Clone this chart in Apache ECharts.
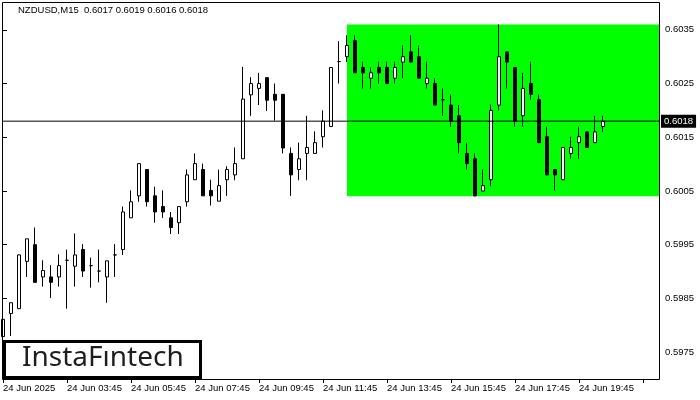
<!DOCTYPE html>
<html><head><meta charset="utf-8">
<script src="https://cdn.jsdelivr.net/npm/echarts@6/dist/echarts.min.js"></script>
<style>html,body{margin:0;padding:0;background:#fff}#c{width:700px;height:400px}</style>
</head><body><div id="c"></div><script>
// OHLC values (NZDUSD M15)
const opens  = [0.59779,0.59822,0.59831,0.59919,0.59950,0.59890,0.59890,0.59890,0.59921,0.59910,
                0.59941,0.59911,0.59901,0.59890,0.59931,0.59941,0.60000,0.60041,0.60090,0.60041,
                0.60021,0.60000,0.59991,0.60030,0.60071,0.60090,0.60051,0.60031,0.60071,0.60080,
                0.60110,0.60229,0.60241,0.60261,0.60230,0.60230,0.60120,0.60090,0.60120,0.60120,
                0.60151,0.60170,0.60291,0.60300,0.60330,0.60280,0.60260,0.60280,0.60280,0.60260,
                0.60290,0.60309,0.60300,0.60250,0.60250,0.60220,0.60210,0.60190,0.60120,0.60110,
                0.60050,0.60071,0.60210,0.60309,0.60280,0.60190,0.60250,0.60220,0.60151,0.60090,
                0.60071,0.60120,0.60140,0.60160,0.60140,0.60170];
const highs  = [0.59831,0.59842,0.59932,0.59961,0.59982,0.59921,0.59912,0.59932,0.59941,0.59971,
                0.59951,0.59926,0.59941,0.59920,0.59951,0.60021,0.60051,0.60101,0.60090,0.60058,
                0.60051,0.60011,0.60021,0.60090,0.60120,0.60101,0.60071,0.60090,0.60096,0.60131,
                0.60281,0.60262,0.60270,0.60261,0.60250,0.60230,0.60131,0.60140,0.60190,0.60161,
                0.60200,0.60280,0.60329,0.60340,0.60340,0.60291,0.60280,0.60291,0.60291,0.60291,
                0.60321,0.60340,0.60321,0.60291,0.60260,0.60241,0.60230,0.60210,0.60140,0.60120,
                0.60090,0.60211,0.60360,0.60309,0.60280,0.60270,0.60291,0.60230,0.60170,0.60090,
                0.60131,0.60151,0.60170,0.60160,0.60190,0.60190];
const lows   = [0.59764,0.59780,0.59830,0.59890,0.59880,0.59872,0.59851,0.59872,0.59831,0.59872,
                0.59890,0.59870,0.59880,0.59842,0.59890,0.59931,0.60000,0.60030,0.60021,0.59991,
                0.60000,0.59970,0.59970,0.60021,0.60071,0.60041,0.60023,0.60031,0.60041,0.60070,
                0.60110,0.60190,0.60210,0.60199,0.60181,0.60120,0.60041,0.60070,0.60070,0.60120,
                0.60131,0.60170,0.60250,0.60290,0.60270,0.60241,0.60241,0.60250,0.60250,0.60250,
                0.60260,0.60290,0.60260,0.60241,0.60210,0.60190,0.60170,0.60120,0.60090,0.60040,
                0.60050,0.60059,0.60200,0.60241,0.60170,0.60170,0.60220,0.60140,0.60080,0.60051,
                0.60071,0.60110,0.60110,0.60131,0.60140,0.60160];
const closes = [0.59811,0.59842,0.59931,0.59961,0.59880,0.59902,0.59880,0.59911,0.59921,0.59931,
                0.59901,0.59911,0.59901,0.59920,0.59931,0.60011,0.60030,0.60101,0.60030,0.60011,
                0.60011,0.59982,0.60021,0.60080,0.60101,0.60041,0.60041,0.60060,0.60090,0.60101,
                0.60221,0.60250,0.60250,0.60219,0.60219,0.60130,0.60080,0.60110,0.60131,0.60140,
                0.60180,0.60280,0.60291,0.60321,0.60270,0.60270,0.60270,0.60270,0.60250,0.60280,
                0.60300,0.60290,0.60260,0.60260,0.60210,0.60220,0.60180,0.60140,0.60101,0.60041,
                0.60060,0.60200,0.60300,0.60290,0.60180,0.60241,0.60230,0.60140,0.60080,0.60080,
                0.60131,0.60131,0.60151,0.60131,0.60160,0.60180];

const tickLabels = ["24 Jun 2025","24 Jun 03:45","24 Jun 05:45","24 Jun 07:45","24 Jun 09:45",
                    "24 Jun 11:45","24 Jun 13:45","24 Jun 15:45","24 Jun 17:45","24 Jun 19:45"];
const barsPerTick = 8;
const slotCount = 83;           // visible bar slots incl. empty right margin
const boxTop = 0.6036, boxBottom = 0.6004, boxStart = 43;
const currentPrice = 0.6018;
const titleText = "NZDUSD,M15  0.6017 0.6019 0.6016 0.6018";
const yMin = 0.597, yMax = 0.604;          // visible price range
const yTickFirst = 0.5975, yStep = 0.001;  // price ticks 0.5975 ... 0.6035

const categories = [];
for (let i = 0; i < slotCount; i++) categories.push(String(i));
const candles = opens.map((o, i) => [o, closes[i], lows[i], highs[i]]);
const priceLine = categories.map(() => currentPrice);

// grid geometry
const G = {left: 3, right: 41, top: 3, bottom: 21};
const plotH = 400 - G.top - G.bottom;
const tickGridBottom = G.bottom + plotH * (yTickFirst - yMin) / (yMax - yMin);

const chart = echarts.init(document.getElementById('c'), null, {renderer: 'canvas'});
const font = 'Liberation Sans, Arial, sans-serif';
chart.setOption({
  animation: false,
  backgroundColor: '#fff',
  grid: [
    {left: G.left, right: G.right, top: G.top, bottom: G.bottom, containLabel: false},
    {left: G.left, right: G.right, top: G.top, bottom: tickGridBottom, containLabel: false}
  ],
  xAxis: [{
    type: 'category', data: categories, boundaryGap: false, gridIndex: 0,
    axisLine: {show: false},
    axisTick: {show: true, length: 4, lineStyle: {color: '#000'}, interval: (i) => i % barsPerTick === 0},
    axisLabel: {show: true, interval: (i) => i % barsPerTick === 0, align: 'left', margin: 4,
      color: '#000', fontFamily: font, fontSize: 9.5,
      formatter: (v, i) => (i % barsPerTick === 0 && tickLabels[i / barsPerTick]) ? tickLabels[i / barsPerTick] : ''},
    splitLine: {show: false}
  }, {
    type: 'value', gridIndex: 1, show: false, min: 0, max: 1
  }],
  yAxis: [{
    type: 'value', gridIndex: 0, position: 'right', min: yMin, max: yMax,
    axisLine: {show: false}, axisTick: {show: false}, axisLabel: {show: false}, splitLine: {show: false}
  }, {
    type: 'value', gridIndex: 1, position: 'right', min: yTickFirst, max: yMax, interval: yStep,
    axisLine: {show: false},
    axisTick: {show: true, length: 4, lineStyle: {color: '#000'}},
    axisLabel: {show: true, margin: 6, color: '#000', fontFamily: font, fontSize: 9.5,
      showMaxLabel: false,
      formatter: (v) => (v < yMax - 1e-9) ? v.toFixed(4) : ''},
    splitLine: {show: false}
  }],
  series: [
    {
      type: 'line', data: [], z: 1, silent: true, xAxisIndex: 0, yAxisIndex: 0,
      markArea: {silent: true, itemStyle: {color: '#00ff00', opacity: 1},
        data: [[{xAxis: boxStart, yAxis: boxTop}, {xAxis: slotCount - 1, yAxis: boxBottom}]]}
    },
    {
      type: 'candlestick', data: candles, z: 3, barWidth: 4, clip: true, xAxisIndex: 0, yAxisIndex: 0,
      itemStyle: {color: '#ffffff', color0: '#000000', borderColor: '#000000', borderColor0: '#000000', borderWidth: 1}
    },
    {
      type: 'line', data: priceLine, z: 4, silent: true, xAxisIndex: 0, yAxisIndex: 0,
      symbol: 'none', lineStyle: {color: '#000', width: 1},
      endLabel: {show: true, distance: 2, formatter: () => currentPrice.toFixed(4),
        backgroundColor: '#000', color: '#fff', fontFamily: font, fontSize: 9.5, padding: [2, 3, 1, 3]}
    }
  ],
  graphic: [
    {type: 'rect', z: 50, silent: true, shape: {x: 2.5, y: 2.5, width: 657, height: 377},
      style: {fill: null, stroke: '#000', lineWidth: 1}},
    {type: 'text', z: 50, silent: true, left: 18, top: 5,
      style: {text: titleText, fill: '#000', font: '9.5px ' + font}},
    {type: 'rect', z: 60, silent: true, shape: {x: 4.5, y: 341.5, width: 196, height: 36},
      style: {fill: '#fff', stroke: '#000', lineWidth: 3}},
    {type: 'text', z: 61, silent: true, left: 22, top: 344,
      style: {text: 'InstaFıntech', fill: '#1e1e1e', font: '28px "Noto Sans", sans-serif'}}
  ]
});
</script></body></html>
